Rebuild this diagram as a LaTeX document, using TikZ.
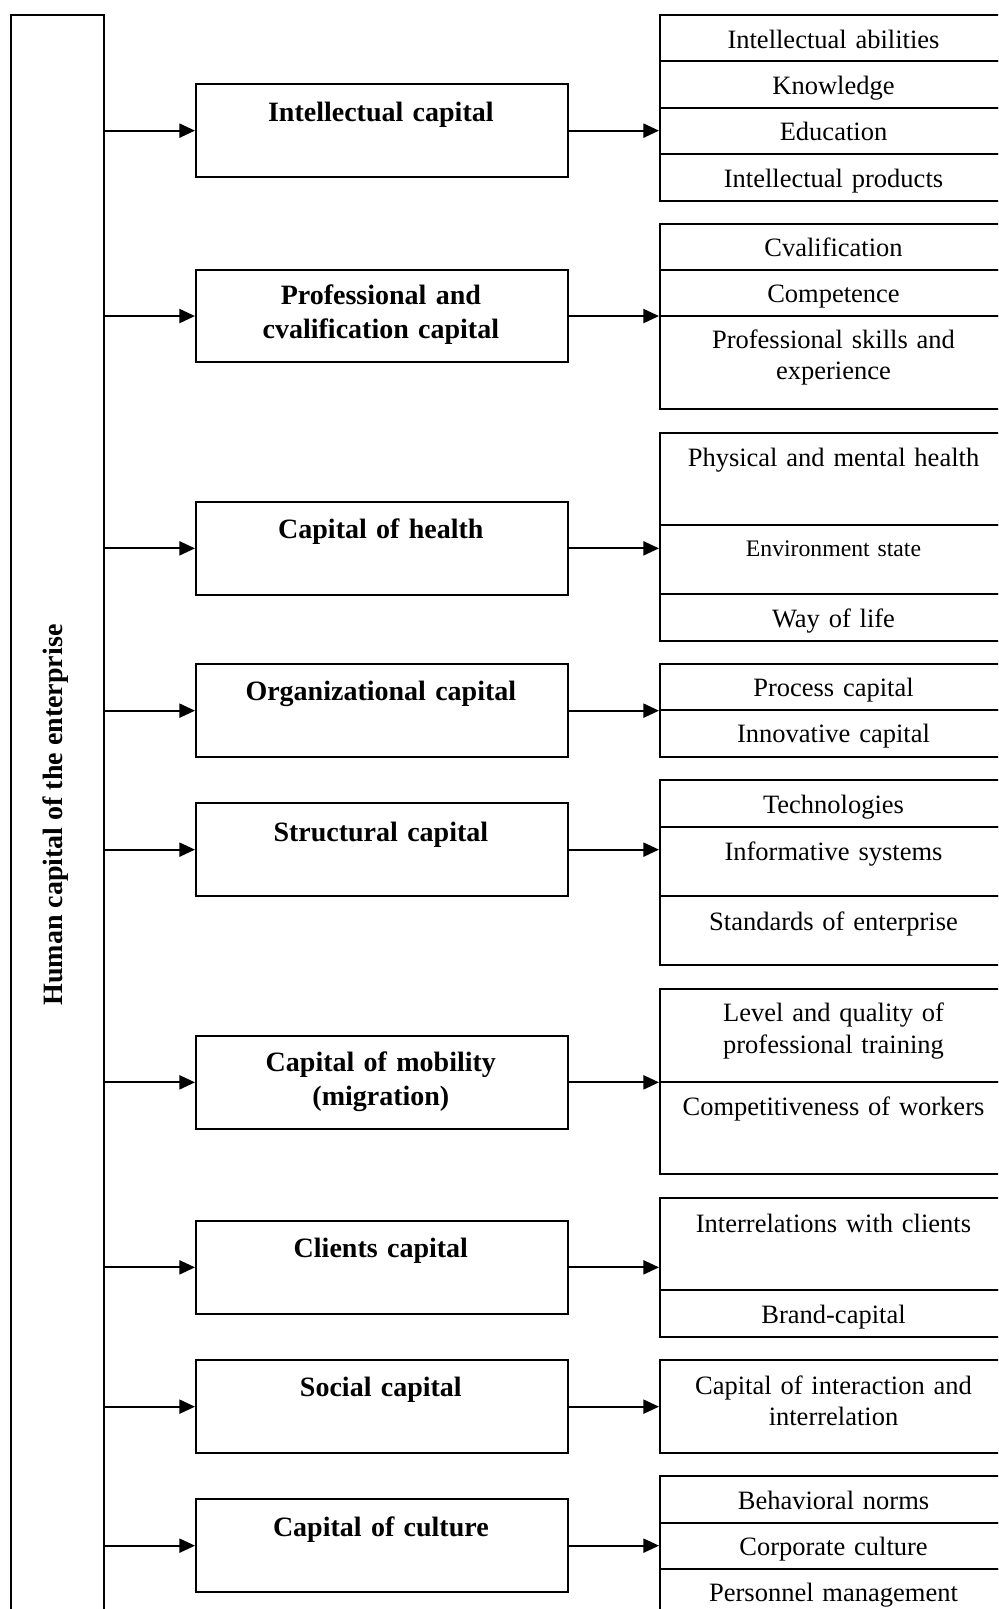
\documentclass[tikz,border=0pt]{standalone}
\usepackage{fontspec}
\setmainfont{Liberation Serif}
\usetikzlibrary{arrows.meta}
\newcommand\bfs{\fontsize{14}{17}\selectfont\bfseries}
\newcommand\rgs{\fontsize{13.25}{15.85}\selectfont}
\newcommand\sms{\fontsize{11.85}{14}\selectfont}
\tikzset{
  frame/.style={draw, line width=1pt, inner sep=0pt},
  midbox/.style={frame, minimum width=185.85pt, minimum height=46.35pt, anchor=north west},
  cellbox/.style={frame, minimum width=180.5pt, anchor=north west},
  btext/.style={font=\bfs, anchor=base, align=center, text width=180pt, inner sep=0pt},
  rtext/.style={font=\rgs, anchor=base, align=center, text width=170pt, inner sep=0pt},
  link/.style={line width=1pt, -{Triangle[length=7.8pt,width=7pt]}}
}
\begin{document}
\begin{tikzpicture}[x=0.5pt,y=-0.5pt]
\useasboundingbox (0,0) rectangle (998,1609);
\clip (0,0) rectangle (998,1609);
% left tall box
\node[frame, anchor=north west, minimum width=46.35pt, minimum height=805.5pt] (hc) at (10,14) {};
\node[rotate=90, font=\bfs, inner sep=0pt] (hct) at (55.5,815) {Human capital of the enterprise};
% middle boxes
\node[midbox] (m1) at (195,83.3) {};
\node[midbox] (m2) at (195,268.7) {};
\node[midbox] (m3) at (195,501) {};
\node[midbox] (m4) at (195,663.3) {};
\node[midbox] (m5) at (195,802.3) {};
\node[midbox] (m6) at (195,1035) {};
\node[midbox] (m7) at (195,1220) {};
\node[midbox] (m8) at (195,1359.3) {};
\node[midbox] (m9) at (195,1498.3) {};
\node[btext] (t1) at (380.85,121.7) {Intellectual capital};
\node[btext] (t2) at (380.85,305) {Professional and\\cvalification capital};
\node[btext] (t3) at (380.85,538.5) {Capital of health};
\node[btext] (t4) at (380.85,700.6) {Organizational capital};
\node[btext] (t5) at (380.85,841) {Structural capital};
\node[btext] (t6) at (380.85,1071.7) {Capital of mobility\\(migration)};
\node[btext] (t7) at (380.85,1257.8) {Clients capital};
\node[btext] (t8) at (380.85,1396.7) {Social capital};
\node[btext] (t9) at (380.85,1536) {Capital of culture};
% right cells: group 1
\node[cellbox, minimum height={(60.3-14)*0.5pt}] (r1a) at (659,14) {};
\node[cellbox, minimum height={(106.7-60.3)*0.5pt}] (r1b) at (659,60.3) {};
\node[cellbox, minimum height={(152.7-106.7)*0.5pt}] (r1c) at (659,106.7) {};
\node[cellbox, minimum height={(200-152.7)*0.5pt}] (r1d) at (659,152.7) {};
% group 2
\node[cellbox, minimum height={(268.7-222.7)*0.5pt}] (r2a) at (659,222.7) {};
\node[cellbox, minimum height={(315-268.7)*0.5pt}] (r2b) at (659,268.7) {};
\node[cellbox, minimum height={(408.3-315)*0.5pt}] (r2c) at (659,315) {};
% group 3
\node[cellbox, minimum height={(524-431.7)*0.5pt}] (r3a) at (659,431.7) {};
\node[cellbox, minimum height={(593.3-524)*0.5pt}] (r3b) at (659,524) {};
\node[cellbox, minimum height={(640-593.3)*0.5pt}] (r3c) at (659,593.3) {};
% group 4
\node[cellbox, minimum height={(709.3-663.3)*0.5pt}] (r4a) at (659,663.3) {};
\node[cellbox, minimum height={(755.7-709.3)*0.5pt}] (r4b) at (659,709.3) {};
% group 5
\node[cellbox, minimum height={(825.7-779.3)*0.5pt}] (r5a) at (659,779.3) {};
\node[cellbox, minimum height={(895.3-825.7)*0.5pt}] (r5b) at (659,825.7) {};
\node[cellbox, minimum height={(964.3-895.3)*0.5pt}] (r5c) at (659,895.3) {};
% group 6
\node[cellbox, minimum height={(1080.7-988.3)*0.5pt}] (r6a) at (659,988.3) {};
\node[cellbox, minimum height={(1173.3-1080.7)*0.5pt}] (r6b) at (659,1080.7) {};
% group 7
\node[cellbox, minimum height={(1289-1196.7)*0.5pt}] (r7a) at (659,1196.7) {};
\node[cellbox, minimum height={(1335.7-1289)*0.5pt}] (r7b) at (659,1289) {};
% group 8
\node[cellbox, minimum height={(1451.7-1359.3)*0.5pt}] (r8a) at (659,1359.3) {};
% group 9
\node[cellbox, minimum height={(1521.7-1475)*0.5pt}] (r9a) at (659,1475) {};
\node[cellbox, minimum height={(1567.7-1521.7)*0.5pt}] (r9b) at (659,1521.7) {};
\node[cellbox, minimum height={(1630-1567.7)*0.5pt}] (r9c) at (659,1567.7) {};
% right texts
\node[rtext] at (833.5,48.3) {Intellectual abilities};
\node[rtext] at (833.5,95) {Knowledge};
\node[rtext] at (833.5,140.5) {Education};
\node[rtext] at (833.5,187.3) {Intellectual products};
\node[rtext] at (833.5,256.7) {Cvalification};
\node[rtext] at (833.5,302.7) {Competence};
\node[rtext] at (833.5,348.3) {Professional skills and\\experience};
\node[rtext] at (833.5,466.7) {Physical and mental health};
\node[rtext, font=\sms] at (833.5,556.7) {Environment state};
\node[rtext] at (833.5,627.3) {Way of life};
\node[rtext] at (833.5,696.7) {Process capital};
\node[rtext] at (833.5,742.7) {Innovative capital};
\node[rtext] at (833.5,813.3) {Technologies};
\node[rtext] at (833.5,860.7) {Informative systems};
\node[rtext] at (833.5,930.7) {Standards of enterprise};
\node[rtext] at (833.5,1021.7) {Level and quality of\\professional training};
\node[rtext] at (833.5,1115) {Competitiveness of workers};
\node[rtext] at (833.5,1232.7) {Interrelations with clients};
\node[rtext] at (833.5,1323.3) {Brand-capital};
\node[rtext] at (833.5,1394) {Capital of interaction and\\interrelation};
\node[rtext] at (833.5,1509.3) {Behavioral norms};
\node[rtext] at (833.5,1555.7) {Corporate culture};
\node[rtext] at (833.5,1601.7) {Personnel management};
% arrows trunk -> middle
\foreach \m in {m1,m2,m3,m4,m5,m6,m7,m8,m9}{
  \draw[link] (hc.east |- \m.west) -- (\m.west);
}
% arrows middle -> right
\draw[link] (m1.east) -- (m1.east -| r1a.west);
\draw[link] (m2.east) -- (m2.east -| r2a.west);
\draw[link] (m3.east) -- (m3.east -| r3a.west);
\draw[link] (m4.east) -- (m4.east -| r4a.west);
\draw[link] (m5.east) -- (m5.east -| r5a.west);
\draw[link] (m6.east) -- (m6.east -| r6a.west);
\draw[link] (m7.east) -- (m7.east -| r7a.west);
\draw[link] (m8.east) -- (m8.east -| r8a.west);
\draw[link] (m9.east) -- (m9.east -| r9a.west);
\end{tikzpicture}
\end{document}
